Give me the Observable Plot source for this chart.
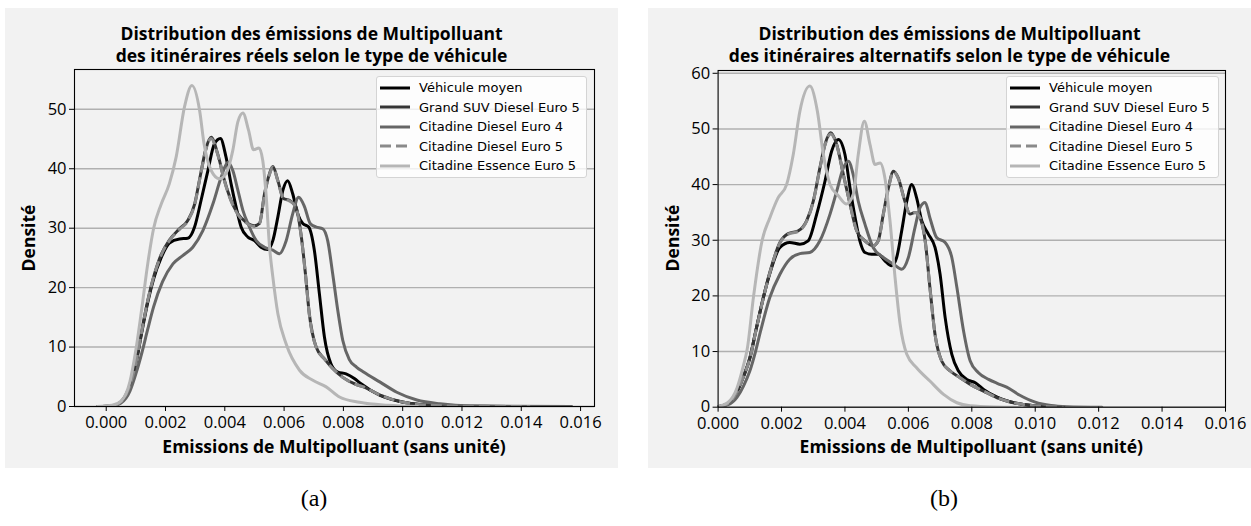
<!DOCTYPE html>
<html>
<head>
<meta charset="utf-8">
<script src="https://cdn.jsdelivr.net/npm/d3@7"></script>
<script src="https://cdn.jsdelivr.net/npm/@observablehq/plot@0.6"></script>
<style>
  html, body { margin: 0; padding: 0; background: #ffffff; }
  #root { position: relative; width: 1251px; height: 526px; background: #fff; overflow: hidden; }
  .panel { position: absolute; background: #f2f2f2; }
  .panel svg { position: absolute; left: 0; top: 0; }
  .panel svg text { font-family: 'Open Sans', sans-serif; }
  .title { position: absolute; left: 0; width: 100%; text-align: center; font-family: 'Open Sans', sans-serif; font-weight: 700; font-size: 17.5px; line-height: 22px; color: #000; white-space: nowrap; }
  .xlabel { position: absolute; text-align: center; font-family: 'Open Sans', sans-serif; font-weight: 700; font-size: 17.5px; line-height: 18px; color: #000; white-space: nowrap; }
  .ylabel { position: absolute; width: 200px; height: 22px; text-align: center; font-family: 'Open Sans', sans-serif; font-weight: 700; font-size: 17.5px; line-height: 22px; color: #000; transform: rotate(-90deg); white-space: nowrap; }
  .legend { position: absolute; background: rgba(255,255,255,0.8); border: 1px solid #d4d4d4; border-radius: 3px; box-sizing: border-box; padding-top: 1px; }
  .legend .row { display: flex; align-items: center; height: 19.5px; font-family: 'DejaVu Sans', sans-serif; font-size: 13px; color: #000; white-space: nowrap; }
  .legend .row svg { position: static; margin-left: 3px; margin-right: 9px; }
  .sub { position: absolute; font-family: 'Liberation Serif', 'Times New Roman', serif; font-size: 24px; line-height: 28px; color: #000; transform: translateX(-50%); }
</style>
</head>
<body>
<div id="root"></div>
<script>
// ---------- data ----------
const seriesNames = ["Véhicule moyen", "Grand SUV Diesel Euro 5", "Citadine Diesel Euro 4", "Citadine Diesel Euro 5", "Citadine Essence Euro 5"];
const xTicks = [0, 0.002, 0.004, 0.006, 0.008, 0.010, 0.012, 0.014, 0.016];
const yTicksA = [0, 10, 20, 30, 40, 50];
const yTicksB = [0, 10, 20, 30, 40, 50, 60];

const titleA = ["Distribution des émissions de Multipolluant", "des itinéraires réels selon le type de véhicule"];
const titleB = ["Distribution des émissions de Multipolluant", "des itinéraires alternatifs selon le type de véhicule"];
const xLabel = "Emissions de Multipolluant (sans unité)";
const yLabel = "Densité";
const subLabels = ["(a)", "(b)"];

// (a) itinéraires réels  — [émissions, densité]
const aMoyen = [[-0.0003,0],[0.0002,0.1],[0.0005,0.8],[0.0008,3.5],[0.001,7.2],[0.0012,12.5],[0.0014,17.5],[0.0016,21.5],[0.00185,25],[0.00213,27.5],[0.00247,28.2],[0.00275,28.3],[0.00298,30.2],[0.0032,34.7],[0.00343,39.7],[0.00365,44.2],[0.00385,45.1],[0.00404,42],[0.00421,37.5],[0.00438,33.6],[0.00455,30.2],[0.00478,28.5],[0.005,27.9],[0.00522,26.8],[0.00545,26.4],[0.00562,27.9],[0.00579,31.9],[0.00596,36.4],[0.00612,38],[0.00629,35.8],[0.00646,32.4],[0.00663,30.8],[0.00683,30.2],[0.00702,26.3],[0.00719,19],[0.00736,11.7],[0.00758,7.2],[0.00781,5.8],[0.00809,5.5],[0.00837,4.7],[0.00857,3.9],[0.00924,1.85],[0.01003,0.7],[0.01093,0.2],[0.012,0.05],[0.0143,0]];
const aSuv = [[-0.0003,0],[0.0002,0.1],[0.0005,0.8],[0.0008,3.6],[0.001,7.4],[0.0012,12.8],[0.0014,17.8],[0.0016,21.8],[0.00185,25.5],[0.00213,28],[0.00247,29.9],[0.00275,31.3],[0.00298,34],[0.00318,39],[0.00337,43.5],[0.00354,45.3],[0.00376,42.5],[0.00399,38],[0.00421,34.7],[0.00444,32.4],[0.00472,31],[0.005,30.4],[0.00517,30.8],[0.00534,35.8],[0.00551,39.2],[0.00562,40.4],[0.00579,38],[0.00598,35],[0.00618,34.7],[0.0064,33.6],[0.00657,29],[0.00672,22.3],[0.00685,15.6],[0.00708,10],[0.00736,8],[0.00764,6.4],[0.00798,4.9],[0.00843,3.7],[0.00868,3.3],[0.00924,1.9],[0.01003,0.7],[0.01093,0.2],[0.012,0.05],[0.0143,0]];
const aCde4 = [[-0.0003,0],[0.0002,0.1],[0.0005,0.6],[0.0008,2.6],[0.001,5.5],[0.0012,9],[0.0014,13],[0.0016,16.8],[0.0019,21],[0.00225,24],[0.00258,25.4],[0.00292,26.8],[0.00326,29.6],[0.0036,34.1],[0.00388,38.6],[0.0041,41.1],[0.00427,39.7],[0.00444,36.4],[0.00461,33],[0.00483,30.2],[0.00506,27.9],[0.00534,26.8],[0.00562,26.3],[0.00584,25.7],[0.00607,27.9],[0.00629,32.4],[0.00649,35.2],[0.00669,33.6],[0.00688,30.8],[0.00708,30.2],[0.0073,29.9],[0.00747,27.9],[0.00764,22.3],[0.00781,16.2],[0.00798,11.1],[0.0082,7.9],[0.00845,6.6],[0.00868,5.8],[0.00924,4.1],[0.0098,2.4],[0.01048,1.1],[0.01126,0.45],[0.01228,0.1],[0.0157,0]];
const aCde5 = [[-0.0003,0],[0.0002,0.1],[0.0005,0.8],[0.0008,3.6],[0.001,7.3],[0.0012,12.7],[0.0014,17.8],[0.0016,21.8],[0.00185,25.4],[0.00213,27.9],[0.00247,29.8],[0.00275,31.2],[0.00298,33.9],[0.00318,38.9],[0.00337,43.4],[0.00354,45.1],[0.00376,42.4],[0.00399,37.9],[0.00421,34.6],[0.00444,32.3],[0.00472,30.9],[0.005,30.3],[0.00517,30.8],[0.00534,35.7],[0.00551,39.1],[0.00562,40.3],[0.00579,37.9],[0.00598,34.9],[0.00618,34.6],[0.0064,33.5],[0.00657,28.9],[0.00672,22.2],[0.00685,15.5],[0.00708,10],[0.00736,8],[0.00764,6.4],[0.00798,4.9],[0.00843,3.7],[0.00868,3.3],[0.00924,1.9],[0.01003,0.7],[0.01093,0.2],[0.012,0.05],[0.0143,0]];
const aEss = [[-0.0003,0],[0.0002,0.2],[0.0005,0.9],[0.0008,4.2],[0.001,9.5],[0.0012,16.5],[0.0014,24],[0.0016,30],[0.00185,34],[0.00213,37.5],[0.00236,42],[0.00264,50.4],[0.00289,54],[0.00315,49.8],[0.0033,44.2],[0.00354,39.7],[0.00382,38.3],[0.00404,39.2],[0.00427,43.1],[0.00444,47.9],[0.00461,49.4],[0.0048,46.5],[0.00497,43.2],[0.00515,43.5],[0.00528,41.4],[0.00539,35.8],[0.00551,26.8],[0.00562,21.8],[0.00579,15.6],[0.00607,10.5],[0.00652,6.1],[0.00697,4.4],[0.00742,3.3],[0.00787,1.6],[0.00854,0.7],[0.0095,0.2],[0.0105,0]];

// (b) itinéraires alternatifs — [émissions, densité]
const bMoyen = [[0,0.1],[0.0003,0.6],[0.0006,2.8],[0.0008,5.5],[0.001,8.8],[0.0012,14],[0.00144,20],[0.00163,24],[0.00195,28.7],[0.00226,29.6],[0.00258,29.3],[0.00284,29.9],[0.00311,34.7],[0.00337,40.6],[0.00358,46],[0.00379,48.1],[0.004,45.4],[0.00416,39.4],[0.00432,34.1],[0.00447,29.9],[0.00463,27.8],[0.00484,27.5],[0.00505,27.5],[0.00526,26.3],[0.00547,25.4],[0.00563,26.9],[0.00579,31.7],[0.00595,37],[0.00611,40],[0.00626,37.6],[0.00642,33.5],[0.00663,31.1],[0.00684,28.7],[0.007,23.9],[0.00716,16.1],[0.00737,9.5],[0.00758,6.5],[0.00784,5],[0.00811,4.4],[0.00837,3.2],[0.0088,1.8],[0.0094,0.7],[0.01,0.25],[0.0109,0]];
const bSuv = [[0,0.1],[0.0003,0.6],[0.0006,2.8],[0.0008,5.5],[0.001,8.8],[0.0012,14],[0.00144,20],[0.00163,24.2],[0.00195,29.6],[0.00221,31.2],[0.00253,31.7],[0.00279,33.5],[0.003,37],[0.00321,43],[0.00337,47.2],[0.00355,49.3],[0.00374,47.2],[0.00395,41.8],[0.00416,36.5],[0.00437,31.7],[0.00463,29.9],[0.00489,29],[0.00505,29.9],[0.00521,34.7],[0.00537,39.4],[0.00553,42.4],[0.00568,41.2],[0.00589,37],[0.00605,34.7],[0.00621,35],[0.00637,34],[0.00653,29.9],[0.00668,21.5],[0.00684,13.1],[0.00705,8.3],[0.00732,6.5],[0.00763,5.3],[0.00795,4.1],[0.00837,2.9],[0.0088,1.7],[0.0094,0.7],[0.01,0.25],[0.0109,0]];
const bCde4 = [[0,0.05],[0.0003,0.4],[0.0006,1.8],[0.0008,3.8],[0.001,6.5],[0.00118,10],[0.00134,13.7],[0.00163,19.7],[0.00195,23.9],[0.00226,26.6],[0.00258,27.6],[0.00289,27.8],[0.00321,29.9],[0.00353,34.7],[0.00374,38.8],[0.00395,43],[0.00411,44.2],[0.00426,41.8],[0.00442,37],[0.00463,32.9],[0.00489,28.7],[0.00521,26.9],[0.00553,25.7],[0.00579,24.8],[0.006,26.9],[0.00621,32.3],[0.00637,35.9],[0.00653,36.8],[0.00668,34],[0.00689,30.5],[0.00716,29.6],[0.00737,26.9],[0.00753,21.5],[0.00774,13.7],[0.00795,8.3],[0.00821,6.2],[0.00853,5],[0.0088,4.3],[0.0091,3.6],[0.0095,2.2],[0.01,0.9],[0.0105,0.3],[0.011,0.1],[0.0121,0]];
const bCde5 = [[0,0.1],[0.0003,0.6],[0.0006,2.8],[0.0008,5.5],[0.001,8.7],[0.0012,13.9],[0.00144,19.9],[0.00163,24.1],[0.00195,29.5],[0.00221,31.1],[0.00253,31.6],[0.00279,33.4],[0.003,36.9],[0.00321,42.9],[0.00337,47.1],[0.00355,49.1],[0.00374,47.1],[0.00395,41.8],[0.00416,36.5],[0.00437,31.7],[0.00463,29.9],[0.00489,29],[0.00505,29.9],[0.00521,34.6],[0.00537,39.3],[0.00553,42.3],[0.00568,41.1],[0.00589,37],[0.00605,34.7],[0.00621,35],[0.00637,34],[0.00653,29.8],[0.00668,21.4],[0.00684,13.1],[0.00705,8.3],[0.00732,6.5],[0.00763,5.3],[0.00795,4.1],[0.00837,2.9],[0.0088,1.7],[0.0094,0.7],[0.01,0.25],[0.0109,0]];
const bEss = [[0,0.15],[0.0003,0.8],[0.0006,3.5],[0.0008,7.5],[0.00092,10.5],[0.00112,20],[0.00139,30],[0.00163,34],[0.00189,37.6],[0.00216,40],[0.00237,45.4],[0.00258,53.2],[0.00289,57.7],[0.00313,53.2],[0.00332,45.4],[0.00353,40],[0.00379,38],[0.00405,36.5],[0.00426,38.2],[0.00442,45.4],[0.00461,51.4],[0.00479,47.2],[0.00495,43.6],[0.00511,43.9],[0.00526,41.2],[0.00542,33.5],[0.00558,23.3],[0.00574,14.9],[0.00595,9.5],[0.00626,7.1],[0.00668,4.7],[0.00711,2.3],[0.00753,0.8],[0.00795,0.25],[0.0087,0.05],[0.0095,0]];

// styles (not data)
const colors = ["#000000", "#363636", "#666666", "#8a8a8a", "#b6b6b6"];
const dashes = [null, null, null, "11,5", null];

// ---------- drawing ----------
const root = document.getElementById("root");

function rows(arrays) {
  return arrays.flatMap((arr, i) => arr.map(([x, y]) => ({series: seriesNames[i], x, y})));
}

function makePanel(cfg) {
  const panel = document.createElement("div");
  panel.className = "panel";
  Object.assign(panel.style, {left: cfg.left + "px", top: cfg.top + "px", width: cfg.width + "px", height: cfg.height + "px"});
  root.appendChild(panel);

  const data = rows(cfg.arrays);
  const lineMarks = seriesNames.map((s, i) => Plot.line(data.filter(d => d.series === s), {
    x: "x", y: "y", stroke: colors[i], strokeWidth: 3, curve: "monotone-x",
    strokeDasharray: dashes[i] || undefined, strokeLinejoin: "round", strokeLinecap: dashes[i] ? "butt" : "round", clip: true
  }));

  const chart = Plot.plot({
    width: cfg.width, height: cfg.height,
    marginLeft: cfg.mL, marginRight: cfg.mR, marginTop: cfg.mT, marginBottom: cfg.mB,
    x: {domain: cfg.xDomain, label: null},
    y: {domain: cfg.yDomain, label: null},
    style: {background: "transparent", fontFamily: "'Open Sans', sans-serif", fontSize: "16.5px", color: "#000", overflow: "visible"},
    marks: [
      Plot.ruleY(cfg.yTicks, {stroke: "#b0b0b0", strokeWidth: 1.4}),
      ...lineMarks,
      Plot.frame({stroke: "#000", strokeWidth: 1.1}),
      Plot.axisX(xTicks, {tickFormat: d3.format(".3f"), tickSize: 5, tickPadding: 5, stroke: "#000", label: null, fontSize: 16.5, fill: "#000"}),
      Plot.axisY(cfg.yTicks, {tickSize: 5, tickPadding: 3, stroke: "#000", label: null, fontSize: 16.5, fill: "#000"})
    ]
  });
  panel.appendChild(chart);

  // title
  const t = document.createElement("div");
  t.className = "title";
  t.style.top = "14px";
  t.innerHTML = cfg.title.join("<br>");
  panel.appendChild(t);

  // x label
  const xl = document.createElement("div");
  xl.className = "xlabel";
  Object.assign(xl.style, {left: cfg.mL + "px", width: (cfg.width - cfg.mL - cfg.mR) + "px", top: "429px"});
  xl.textContent = xLabel;
  panel.appendChild(xl);

  // y label
  const yl = document.createElement("div");
  yl.className = "ylabel";
  Object.assign(yl.style, {left: (cfg.yLabelX - 100) + "px", top: (cfg.mT + (cfg.height - cfg.mT - cfg.mB) / 2 - 11) + "px"});
  yl.textContent = yLabel;
  panel.appendChild(yl);

  // legend
  const lg = document.createElement("div");
  lg.className = "legend";
  Object.assign(lg.style, {left: cfg.legend[0] + "px", top: cfg.legend[1] + "px", width: cfg.legend[2] + "px", height: cfg.legend[3] + "px"});
  seriesNames.forEach((s, i) => {
    const r = document.createElement("div");
    r.className = "row";
    r.innerHTML = `<svg width="30" height="6"><line x1="0" x2="30" y1="3" y2="3" stroke="${colors[i]}" stroke-width="3" ${dashes[i] ? `stroke-dasharray="${dashes[i]}"` : ""}/></svg><span>${s}</span>`;
    lg.appendChild(r);
  });
  panel.appendChild(lg);
}

makePanel({
  left: 5, top: 8, width: 613, height: 460, mL: 69, mR: 24, mT: 61, mB: 62,
  xDomain: [-0.00107, 0.01647], yDomain: [0, 56.7], yTicks: yTicksA,
  arrays: [aMoyen, aSuv, aCde4, aCde5, aEss], title: titleA, yLabelX: 23,
  legend: [371, 68, 211, 102]
});
makePanel({
  left: 648, top: 8, width: 603, height: 460, mL: 69.6, mR: 26, mT: 62, mB: 61.3,
  xDomain: [0, 0.016], yDomain: [0, 60.5], yTicks: yTicksB,
  arrays: [bMoyen, bSuv, bCde4, bCde5, bEss], title: titleB, yLabelX: 24,
  legend: [358, 68, 213, 102]
});

// sub-figure labels
[[314, subLabels[0]], [944, subLabels[1]]].forEach(([x, s]) => {
  const d = document.createElement("div");
  d.className = "sub";
  Object.assign(d.style, {left: x + "px", top: "484px"});
  d.textContent = s;
  root.appendChild(d);
});
</script>
</body>
</html>
